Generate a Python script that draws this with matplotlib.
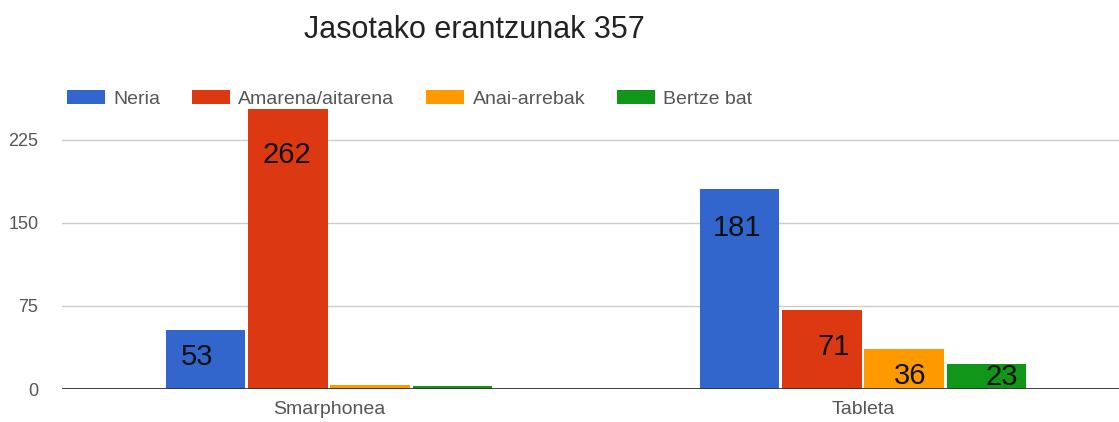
import matplotlib
matplotlib.use("Agg")
import matplotlib.pyplot as plt
import numpy as np
from matplotlib.patches import Patch

plt.rcParams["font.family"] = ["Liberation Sans", "DejaVu Sans"]

# --- data ---
title = "Jasotako erantzunak 357"
categories = ["Smarphonea", "Tableta"]
series_names = ["Neria", "Amarena/aitarena", "Anai-arrebak", "Bertze bat"]
values = {
    "Neria": [53, 181],
    "Amarena/aitarena": [262, 71],
    "Anai-arrebak": [4, 36],
    "Bertze bat": [3, 23],
}
# which bars carry a value label: (series, category index)
labelled = [
    ("Neria", 0), ("Amarena/aitarena", 0),
    ("Neria", 1), ("Amarena/aitarena", 1),
    ("Anai-arrebak", 1), ("Bertze bat", 1),
]
yticks = [0, 75, 150, 225]

colors = ["#3366cc", "#dc3912", "#ff9900", "#109618"]
# label nudges in pixels (dx, dy) relative to the bar top
label_offsets = {
    ("Neria", 0): (-9, -27),
    ("Amarena/aitarena", 0): (-1, -56),
    ("Neria", 1): (-3, -39),
    ("Amarena/aitarena", 1): (12, -37),
    ("Anai-arrebak", 1): (6, -27),
    ("Bertze bat", 1): (15, -13),
}

W, H = 1119, 422
fig = plt.figure(figsize=(W / 100, H / 100), dpi=100)
ax = fig.add_axes([62 / W, 33 / H, 1068 / W, 280 / H])

x = np.arange(len(categories))
step = 0.154
width = 0.149
offsets = (np.arange(len(series_names)) - 1.5) * step

for name, off, col in zip(series_names, offsets, colors):
    ax.bar(x + off, values[name], width=width, color=col, zorder=3)

for name, ci in labelled:
    si = series_names.index(name)
    v = values[name][ci]
    dx, dy = label_offsets[(name, ci)]
    ax.annotate(str(v), xy=(x[ci] + offsets[si], v), xytext=(dx, dy),
                textcoords="offset pixels", ha="center", va="center",
                fontsize=21, color="#111111", zorder=5, annotation_clip=False)

ax.set_xlim(-0.5, 1.5)
ax.set_ylim(0, 253)
ax.set_yticks(yticks)
ax.set_yticklabels([str(t) for t in yticks])
ax.set_xticks(x)
ax.set_xticklabels(categories)
ax.tick_params(axis="both", length=0, labelcolor="#555555")
ax.tick_params(axis="y", pad=17, labelsize=13)
ax.tick_params(axis="x", pad=9, labelsize=14)
ax.grid(axis="y", color="#cccccc", linewidth=1.0, zorder=0)
for s in ax.spines.values():
    s.set_visible(False)
ax.axhline(0, color="#333333", linewidth=1.3, zorder=4)

handles = [Patch(facecolor=c, edgecolor="none") for c in colors]
fig.legend(handles, series_names, loc="center left",
           bbox_to_anchor=(67 / W, (H - 99) / H), ncol=4, frameon=False,
           fontsize=14, labelcolor="#555555", handlelength=1.95,
           handleheight=0.7, handletextpad=0.42, columnspacing=1.65,
           borderpad=0, borderaxespad=0)

fig.text(474 / W, (H - 30) / H, title, ha="center", va="center",
         fontsize=22, color="#222222")

fig.savefig("out.png", dpi=100)
